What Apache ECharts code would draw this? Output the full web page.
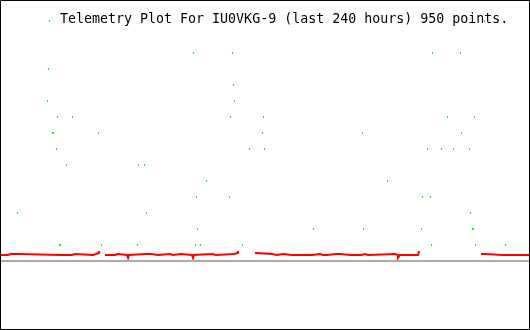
<!DOCTYPE html>
<html>
<head>
<meta charset="utf-8">
<script src="https://cdn.jsdelivr.net/npm/echarts@6/dist/echarts.min.js"></script>
<style>
html,body{margin:0;padding:0;background:#fff;}
#c{width:530px;height:330px;}
</style>
</head>
<body>
<div id="c"></div>
<script>
// Title
const titleText = "Telemetry Plot For IU0VKG-9 (last 240 hours) 950 points.";

// Red telemetry trace: time (hours) and value; null = gap in data
const redHours = [0.5,2.3,2.7,3.2,3.6,5.0,5.4,5.9,6.3,8.2,8.6,27.6,28.1,28.5,32.6,33.1,33.5,34.0,42.1,42.6,43.5,43.9,44.8,
  44.9,
  48.0,52.1,52.5,53.4,53.9,57.5,58.0,58.4,59.3,66.1,66.6,67.0,68.4,68.8,71.5,72.0,77.0,77.4,78.3,82.0,82.4,86.9,87.4,87.8,88.3,96.0,96.5,97.8,98.3,106.0,106.9,107.8,
  107.9,
  115.9,116.8,123.2,123.6,125.4,125.9,128.2,128.6,132.2,132.7,133.1,141.3,141.7,144.9,145.4,146.3,146.7,147.2,148.1,148.5,152.2,152.6,153.1,154.0,158.9,159.4,159.8,163.5,163.9,165.3,165.7,166.6,167.1,167.5,178.9,179.3,179.8,180.2,180.7,181.1,189.3,189.7,
  189.8,
  218.3,219.6,220.1,227.8,228.2,228.7,239.5];
const redValues = [0.375,0.375,0.25,0.375,0.4375,0.4375,0.375,0.4375,0.4375,0.4375,0.375,0.375,0.25,0.375,0.375,0.4375,0.4375,0.375,0.375,0.4375,0.4375,0.5,0.5625,
  null,
  0.375,0.375,0.4375,0.4375,0.375,0.375,0.1875,0.375,0.4375,0.4375,0.375,0.4375,0.4375,0.375,0.375,0.4375,0.4375,0.375,0.4375,0.4375,0.375,0.375,0.1875,0.375,0.4375,0.4375,0.375,0.375,0.4375,0.4375,0.5,0.5625,
  null,
  0.5,0.4375,0.4375,0.375,0.375,0.4375,0.4375,0.375,0.375,0.25,0.375,0.375,0.4375,0.4375,0.375,0.375,0.4375,0.375,0.375,0.4375,0.4375,0.375,0.4375,0.375,0.375,0.25,0.375,0.375,0.4375,0.4375,0.375,0.4375,0.375,0.4375,0.4375,0.375,0.375,0.1875,0.25,0.375,0.375,0.5625,
  null,
  0.4375,0.4375,0.375,0.375,0.25,0.375,0.375];

// Green telemetry points: time (hours) and level
const greenHours = [7.92,21.51,21.96,22.42,23.77,24.23,25.58,26.04,26.94,27.40,30.11,32.83,44.60,45.96,62.26,62.72,65.43,66.34,87.62,88.53,88.98,89.43,90.79,93.51,103.92,104.38,105.28,105.74,106.19,109.81,112.98,118.87,119.32,119.77,141.96,164.15,164.60,175.47,190.87,191.32,193.58,194.94,195.40,195.85,199.92,202.64,205.36,208.53,208.98,212.60,213.06,213.96,214.42,214.87,215.32,219.40,228.91];
const greenValues = [3,10,12,15,8,8,7,9,1,1,6,9,8,1,1,6,6,3,13,1,4,2,1,5,4,9,13,11,10,1,7,8,9,7,2,8,2,5,2,4,7,4,1,13,7,9,7,13,8,7,3,2,2,9,1,15,1];

const baseline = 0;

const redData = redHours.map((h, i) => [h, redValues[i] === null ? '-' : redValues[i]]);
const greenData = greenHours.map((h, i) => [h, greenValues[i]]);

const chart = echarts.init(document.getElementById('c'), null, {renderer: 'canvas'});
chart.setOption({
  animation: false,
  backgroundColor: '#ffffff',
  title: {
    text: titleText,
    left: 55,
    top: 8,
    textStyle: {fontFamily: 'DejaVu Sans Mono', fontSize: 13.3, fontWeight: 'normal', color: '#000'}
  },
  grid: {left: 0, right: 0, top: 0, bottom: 0, containLabel: false},
  xAxis: {type: 'value', min: 0, max: 240, show: false},
  yAxis: {type: 'value', min: -4.3125, max: 16.3125, show: false},
  graphic: [{
    type: 'rect', z: 100, silent: true,
    shape: {x: 0.5, y: 0.5, width: 529, height: 329},
    style: {fill: null, stroke: '#000', lineWidth: 1}
  }],
  series: [
    {
      type: 'line', data: [], silent: true, z: 1,
      markLine: {
        silent: true, symbol: 'none', animation: false,
        label: {show: false},
        lineStyle: {color: '#aaaaaa', width: 2, type: 'solid'},
        data: [{yAxis: baseline}]
      }
    },
    {
      type: 'line', data: redData, showSymbol: false, connectNulls: false, z: 2, step: 'end',
      lineStyle: {color: '#ff0000', width: 2, cap: 'square', join: 'miter'}
    },
    {
      type: 'scatter', data: greenData, symbol: 'rect', symbolSize: [1, 2], z: 3,
      itemStyle: {color: '#00ff00', opacity: 1}
    }
  ]
});
</script>
</body>
</html>
